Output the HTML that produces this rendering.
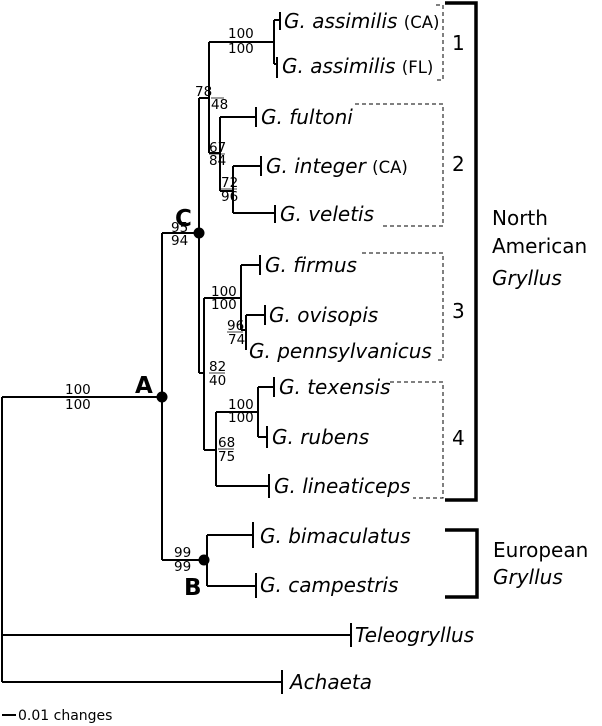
<!DOCTYPE html>
<html><head><meta charset="utf-8"><style>
html,body{margin:0;padding:0;background:#fff}
svg{display:block}
.sp{font-family:"DejaVu Sans",sans-serif;font-style:italic;font-size:20px;fill:#000}
.sm{font-style:normal;font-size:16.5px}
.bs{font-family:"DejaVu Sans",sans-serif;font-size:13.5px;fill:#000}
.lb{font-family:"DejaVu Sans",sans-serif;font-size:20px;fill:#000}
.big{font-family:"DejaVu Sans",sans-serif;font-size:23px;font-weight:bold;fill:#000}
</style></head><body>
<svg width="602" height="726" viewBox="0 0 602 726" xmlns="http://www.w3.org/2000/svg">
<g stroke="#000" stroke-width="2" fill="none">
<path d="M2 397V682M2 397H162M2 635H351M351 623V647M2 682H282M282 670V694"/>
<path d="M162 233V560M162 233H199M162 560H204"/>
<path d="M199 98V373M199 98H209M209 42V153M209 42H274M274 20V64M274 20H280M280 12V30M274 64H277M277 57V78"/>
<path d="M209 153H220M220 117V191M220 117H256M256 107V127M220 191H233M233 166V213M233 166H261M261 156V176M233 213H275M275 205V223"/>
<path d="M199 373H204M204 298V450M204 298H241M241 265V330M241 265H260M260 255V275M241 330H246M246 315V350M246 315H265M265 305V325"/>
<path d="M204 450H216M216 412V486M216 412H258M258 387V437M258 387H274M274 377V397M258 437H267M267 426V448M216 486H269M269 474V498"/>
<path d="M207 535V586M207 535H253M253 522V548M207 586H256M256 573V598"/>
<path d="M2 715H16"/>
</g>
<g fill="#000"><circle cx="162" cy="397" r="5.5"/><circle cx="199" cy="233" r="5.5"/><circle cx="204" cy="560" r="5.5"/></g>
<g stroke="#000" stroke-width="3.5" fill="none">
<path d="M445 3H476V500H445"/>
<path d="M445 530H477V597H445"/>
</g>
<g stroke="#000" stroke-width="1" stroke-dasharray="4,3" fill="none">
<path d="M436 5H443V80H436"/>
<path d="M355 104H443V226H380"/>
<path d="M362 253H443V360H437"/>
<path d="M390 382H443V498H413"/>
</g>
<text class="sp" x="284" y="28">G. assimilis <tspan class="sm">(CA)</tspan></text>
<text class="sp" x="282" y="73">G. assimilis <tspan class="sm">(FL)</tspan></text>
<text class="sp" x="261" y="124">G. fultoni</text>
<text class="sp" x="266" y="173">G. integer <tspan class="sm">(CA)</tspan></text>
<text class="sp" x="280" y="221">G. veletis</text>
<text class="sp" x="265" y="272">G. firmus</text>
<text class="sp" x="269" y="322">G. ovisopis</text>
<text class="sp" x="249" y="358">G. pennsylvanicus</text>
<text class="sp" x="279" y="394">G. texensis</text>
<text class="sp" x="272" y="444">G. rubens</text>
<text class="sp" x="274" y="493">G. lineaticeps</text>
<text class="sp" x="260" y="543">G. bimaculatus</text>
<text class="sp" x="260" y="592">G. campestris</text>
<text class="sp" x="355" y="642">Teleogryllus</text>
<text class="sp" x="290" y="689">Achaeta</text>
<g class="bs">
<text x="228" y="38">100</text><text x="228" y="53">100</text>
<text x="195" y="96">78</text><text x="211" y="109">48</text>
<text x="209" y="152">67</text><text x="209" y="165">84</text>
<text x="221" y="187">72</text><text x="221" y="201">96</text>
<text x="171" y="232">95</text><text x="171" y="245">94</text>
<text x="211" y="296">100</text><text x="211" y="309">100</text>
<text x="227" y="330">96</text><text x="228" y="344">74</text>
<text x="209" y="371">82</text><text x="209" y="385">40</text>
<text x="228" y="409">100</text><text x="228" y="422">100</text>
<text x="218" y="447">68</text><text x="218" y="461">75</text>
<text x="65" y="394">100</text><text x="65" y="409">100</text>
<text x="174" y="557">99</text><text x="174" y="571">99</text>
</g>
<g stroke="#000" stroke-width="0.8"><path d="M227 332H243M209 373H225M218 449H234M211 98H224M209 154H225M221 189H237"/></g>
<text class="big" x="175" y="226">C</text>
<text class="big" x="135" y="393">A</text>
<text class="big" x="184" y="595">B</text>
<text class="lb" x="452" y="50">1</text>
<text class="lb" x="452" y="171">2</text>
<text class="lb" x="452" y="318">3</text>
<text class="lb" x="452" y="445">4</text>
<text class="lb" x="492" y="225">North</text>
<text class="lb" x="492" y="253">American</text>
<text class="lb" x="492" y="285" font-style="italic">Gryllus</text>
<text class="lb" x="493" y="557">European</text>
<text class="lb" x="493" y="584" font-style="italic">Gryllus</text>
<text x="18" y="720" font-family="DejaVu Sans, sans-serif" font-size="14">0.01 changes</text>
</svg>
</body></html>
